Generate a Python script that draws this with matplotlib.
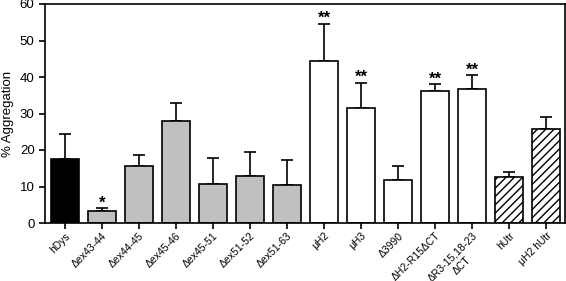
import matplotlib.pyplot as plt
import numpy as np

plt.rcParams['font.family'] = ['Liberation Sans', 'DejaVu Sans']
plt.rcParams['hatch.linewidth'] = 1.0

labels = ["hDys", "Δex43-44", "Δex44-45", "Δex45-46", "Δex45-51", "Δex51-52",
          "Δex51-63", "μH2", "μH3", "Δ3990", "ΔH2-R15ΔCT", "ΔR3-15,18-23\nΔCT",
          "hUtr", "μH2 hUtr"]
values = [17.5, 3.2, 15.6, 28.0, 10.8, 12.8, 10.3, 44.4, 31.6, 11.7, 36.2, 36.6, 12.5, 25.7]
errors = [7.0, 0.8, 2.9, 5.0, 6.9, 6.7, 7.0, 10.1, 6.8, 3.9, 1.8, 3.9, 1.4, 3.4]
stars = ["", "*", "", "", "", "", "", "**", "**", "", "**", "**", "", ""]
groups = ["black", "gray", "gray", "gray", "gray", "gray", "gray",
          "white", "white", "white", "white", "white", "hatch", "hatch"]

fills = {"black": "black", "gray": "#c0c0c0", "white": "white", "hatch": "white"}

fig = plt.figure(figsize=(5.66, 2.81), dpi=100)
ax = fig.add_axes([45 / 566, 1 - 223 / 281, 520 / 566, 219 / 281])

x = np.arange(len(labels))
for i in x:
    ax.bar(i, values[i], width=0.76, color=fills[groups[i]], edgecolor="black",
           linewidth=1.2, hatch="////" if groups[i] == "hatch" else None, zorder=2)
    ax.errorbar(i, values[i], yerr=[[0], [errors[i]]], fmt="none", ecolor="black",
                elinewidth=1.2, capsize=4, capthick=1.2, zorder=1)
    if stars[i]:
        ax.text(i, values[i] + errors[i] - 0.6, stars[i], ha="center", va="bottom",
                fontsize=12, fontweight="bold")

ax.set_xlim(-0.54, 13.51)
ax.set_ylim(0, 60)
ax.set_yticks(range(0, 61, 10))
ax.set_xticks(x)
ax.set_xticklabels(labels, rotation=45, ha="right", rotation_mode="anchor",
                   fontsize=7.5, multialignment="center", linespacing=1.3)
ax.tick_params(axis="y", labelsize=9.5, direction="out", width=1.2, length=4)
ax.tick_params(axis="x", direction="out", width=1.2, length=4, pad=1.5)
ax.set_ylabel("% Aggregation", fontsize=9.5)
for s in ax.spines.values():
    s.set_linewidth(1.2)

fig.savefig("out.png", dpi=100)
